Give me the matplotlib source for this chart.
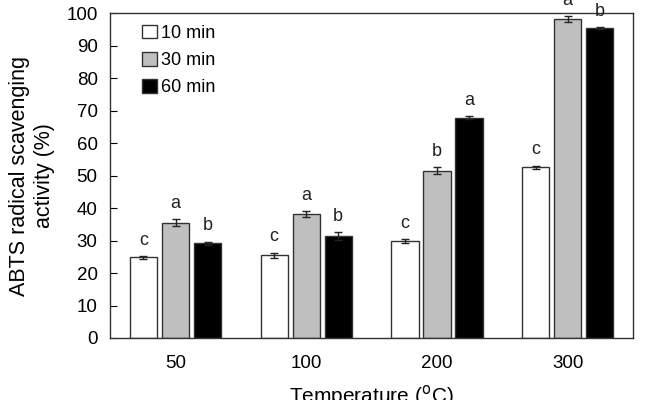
import matplotlib.pyplot as plt
import numpy as np

plt.rcParams['font.family'] = ['Liberation Sans', 'DejaVu Sans']

temps = ['50', '100', '200', '300']
series = ['10 min', '30 min', '60 min']
act_10 = [24.8, 25.5, 29.8, 52.5]
act_30 = [35.5, 38.2, 51.5, 98.2]
act_60 = [29.2, 31.5, 67.8, 95.5]
err_10 = [0.5, 0.8, 0.6, 0.6]
err_30 = [1.0, 1.0, 1.0, 1.0]
err_60 = [0.5, 1.2, 0.5, 0.3]
letters_10 = ['c', 'c', 'c', 'c']
letters_30 = ['a', 'a', 'b', 'a']
letters_60 = ['b', 'b', 'a', 'b']

colors = ['white', '#bfbfbf', 'black']

fig, ax = plt.subplots(figsize=(6.48, 4.0), dpi=100)
fig.subplots_adjust(left=0.17, right=0.977, top=0.967, bottom=0.155)

x = np.arange(len(temps))
width = 0.21
step = 0.245
vals = [act_10, act_30, act_60]
errs = [err_10, err_30, err_60]
lets = [letters_10, letters_30, letters_60]

for i in range(3):
    xs = x + (i - 1) * step
    ax.bar(xs, vals[i], width, color=colors[i], edgecolor='#333333',
           linewidth=1.0, label=series[i],
           yerr=errs[i], capsize=3,
           error_kw=dict(elinewidth=1, ecolor='#222222', capthick=1))
    for xi, v, e, t in zip(xs, vals[i], errs[i], lets[i]):
        ax.text(xi, v + e + 2.2, t, ha='center', va='bottom', fontsize=13,
                color='#222222', clip_on=False)

ax.set_xlim(-0.5, 3.5)
ax.set_ylim(0, 100)
ax.set_yticks(range(0, 101, 10))
ax.set_xticks(x)
ax.set_xticklabels(temps)
ax.tick_params(axis='x', length=0, pad=12, labelsize=13.5)
ax.tick_params(axis='y', direction='in', length=5, pad=9, labelsize=13.5)
for s in ax.spines.values():
    s.set_linewidth(1.0)
    s.set_color('#333333')

ax.set_ylabel('ABTS radical scavenging\nactivity (%)', fontsize=15.5,
              labelpad=8, linespacing=1.25)
ax.set_xlabel('Temperature ($^{\\rm o}$C)', fontsize=15, labelpad=8)

ax.legend(loc='upper left', frameon=False, fontsize=13, handlelength=0.8,
          handleheight=0.8, handletextpad=0.25, labelspacing=0.55,
          bbox_to_anchor=(0.03, 1.015))

plt.savefig('out.png', dpi=100)
